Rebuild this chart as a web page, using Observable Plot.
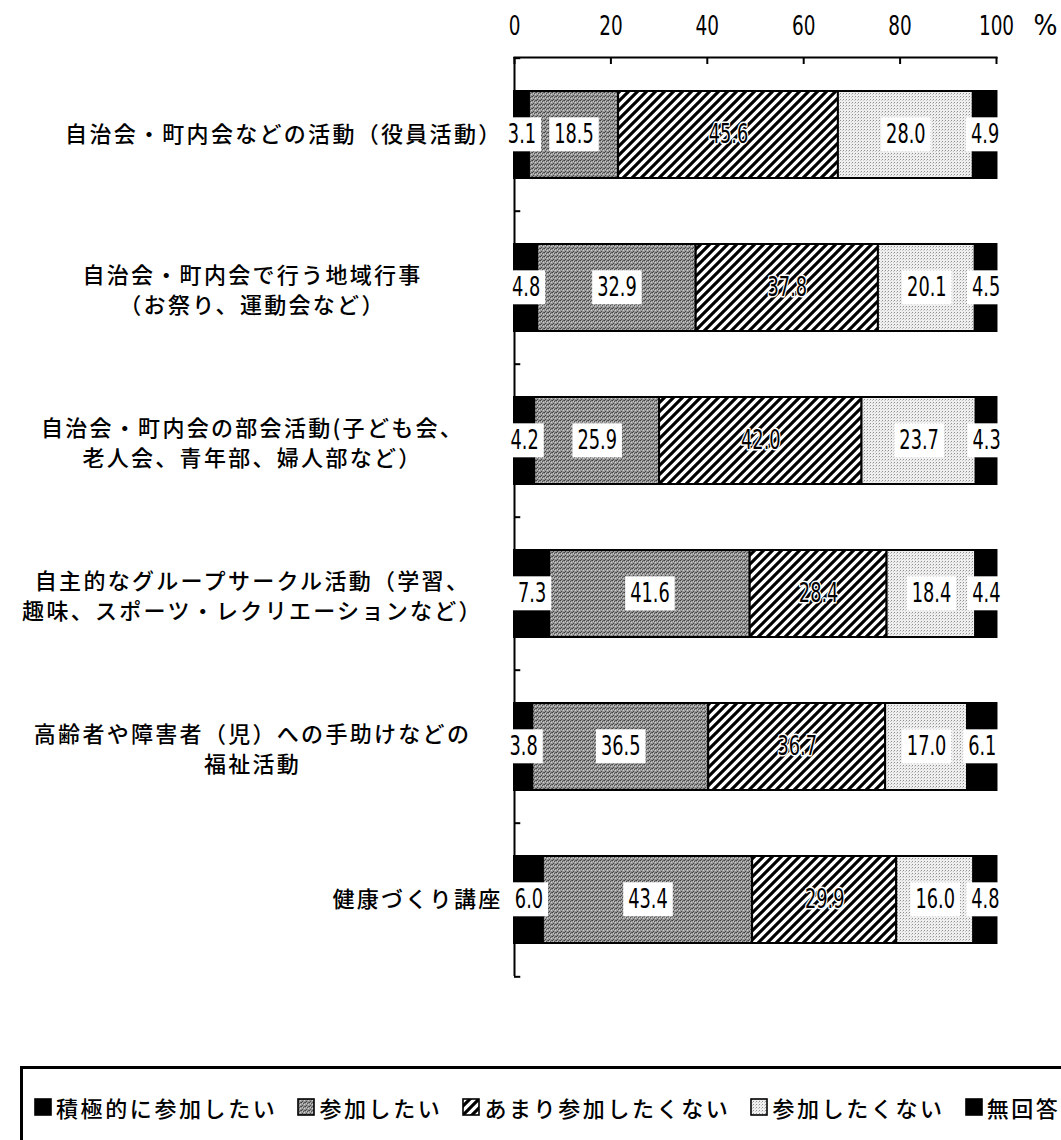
<!DOCTYPE html>
<html><head><meta charset="utf-8">
<script src="https://cdn.jsdelivr.net/npm/d3@7"></script>
<script src="https://cdn.jsdelivr.net/npm/@observablehq/plot@0.6"></script>
<style>
html,body{margin:0;padding:0;background:#fff;}
body{width:1061px;height:1140px;overflow:hidden;position:relative;}
#chart{position:absolute;left:0;top:0;}
#legend{position:absolute;left:20px;top:1066px;width:1100px;height:120px;border:3px solid #000;box-sizing:border-box;
  font-family:"Noto Sans CJK JP","Noto Sans",sans-serif;font-size:22px;font-weight:500;letter-spacing:2.6px;line-height:24px;color:#000;
  padding:26px 0 0 11px;white-space:nowrap;display:flex;align-items:flex-start;}
#legend .item{display:inline-flex;align-items:center;margin-right:20px;}
#legend .item svg{margin-right:4px;flex:none;}
</style></head><body>
<div id="chart"></div>
<div id="legend"></div>
<script>
// ---- data ----
const categories = [
  "自治会・町内会などの活動（役員活動）",
  "自治会・町内会で行う地域行事\n（お祭り、運動会など）",
  "自治会・町内会の部会活動(子ども会、\n老人会、青年部、婦人部など）",
  "自主的なグループサークル活動（学習、\n趣味、スポーツ・レクリエーションなど）",
  "高齢者や障害者（児）への手助けなどの\n福祉活動",
  "健康づくり講座"
];
const seriesNames = ["積極的に参加したい", "参加したい", "あまり参加したくない", "参加したくない", "無回答"];
const sActive   = [3.1, 4.8, 4.2, 7.3, 3.8, 6.0];
const sJoin     = [18.5, 32.9, 25.9, 41.6, 36.5, 43.4];
const sNotMuch  = [45.6, 37.8, 42.0, 28.4, 36.7, 29.9];
const sNo       = [28.0, 20.1, 23.7, 18.4, 17.0, 16.0];
const sNoAnswer = [4.9, 4.5, 4.3, 4.4, 6.1, 4.8];
const xTicks = [0, 20, 40, 60, 80, 100];
const unitLabel = "%";

// ---- styles / layout ----
const seriesValues = [sActive, sJoin, sNotMuch, sNo, sNoAnswer];
const fills = ["#000", "url(#pDots)", "url(#pHatch)", "url(#pLight)", "#000"];
const width = 1061, height = 1000;
const mTop = 57, mBottom = height - 976, mLeft = 514, mRight = width - 996;
const padIn = 0.434, padOut = 0.208;
const step = (height - mTop - mBottom) / (categories.length - padIn + 2 * padOut);
const numFont = "'DejaVu Sans Condensed','DejaVu Sans',sans-serif";
const jpFont = "'Noto Sans CJK JP','Noto Sans',sans-serif";
const numSqueeze = 0.76;

const rows = categories.flatMap((c, i) => seriesNames.map((k, j) => ({cat: c, key: k, value: seriesValues[j][i]})));
const hatchKey = seriesNames[2];
const fmt = v => v.toFixed(1);

const defsMark = () => {
  const d = d3.create("svg:defs");
  d.html(`
    <pattern id="pDots" patternUnits="userSpaceOnUse" width="4" height="4">
      <rect width="4" height="4" fill="#969696"/>
      <rect x="0" y="0" width="1" height="1" fill="#404040"/>
      <rect x="2" y="1" width="1" height="1" fill="#505050"/>
      <rect x="1" y="3" width="1" height="1" fill="#484848"/>
      <rect x="3" y="2" width="1" height="1" fill="#d0d0d0"/>
      <rect x="1" y="1" width="1" height="1" fill="#c8c8c8"/>
      <rect x="3" y="0" width="1" height="1" fill="#606060"/>
    </pattern>
    <pattern id="pHatch" patternUnits="userSpaceOnUse" width="9" height="9">
      <rect width="9" height="9" fill="#fff"/>
      <path d="M-2,2 L2,-2 M0,9 L9,0 M7,11 L11,7" stroke="#000" stroke-width="3.1"/>
    </pattern>
    <pattern id="pLight" patternUnits="userSpaceOnUse" width="3" height="3">
      <rect width="3" height="3" fill="#efefef"/>
      <rect x="0" y="0" width="1" height="1" fill="#909090"/>
      <rect x="2" y="1" width="1" height="1" fill="#c8c8c8"/>
    </pattern>`);
  return d.node();
};

const chart = Plot.plot({
  width, height,
  marginTop: mTop, marginBottom: mBottom, marginLeft: mLeft, marginRight: mRight,
  style: {fontFamily: numFont, fontSize: "26px", color: "#000", background: "#fff", overflow: "visible"},
  x: {domain: [0, 100], axis: null},
  y: {domain: categories, axis: null, paddingInner: padIn, paddingOuter: padOut},
  color: {type: "ordinal", domain: seriesNames, range: fills},
  marks: [
    defsMark,
    Plot.barX(rows, Plot.stackX({x: "value", y: "cat", fill: "key", stroke: "#000", strokeWidth: 2})),
    Plot.ruleX([0], {stroke: "#000", strokeWidth: 2}),
    Plot.frame({anchor: "top", stroke: "#000", strokeWidth: 2}),
    Plot.ruleX(xTicks, {x: d => d, insetBottom: (976 - mTop) - 7, stroke: "#000", strokeWidth: 2}),
    Plot.axisX({anchor: "top", ticks: xTicks, tickSize: 0, tickPadding: 23, label: null, fontSize: 27, fontFamily: numFont}),
    Plot.text([unitLabel], {text: d => d, frameAnchor: "top-right", dx: 49, dy: -23, lineAnchor: "bottom", textAnchor: "middle", fontSize: 28, fontFamily: numFont}),
    Plot.ruleY(categories, {y: d => d, x1: 0, x2: 1.3, dy: -step / 2, stroke: "#000", strokeWidth: 2}),
    Plot.ruleY(categories.slice(-1), {y: d => d, x1: 0, x2: 1.3, dy: step / 2, stroke: "#000", strokeWidth: 2}),
    Plot.text(rows, Plot.stackX({x: "value", y: "cat", z: "key", text: d => d.key === hatchKey ? null : fmt(d.value), fontSize: 26, fontFamily: numFont, fill: "#000"})),
    Plot.text(rows, Plot.stackX({x: "value", y: "cat", z: "key", text: d => d.key === hatchKey ? fmt(d.value) : null, fontSize: 26, fontFamily: numFont, fill: "#000", stroke: "#fff", strokeWidth: 3, paintOrder: "stroke"})),
    Plot.text(categories.filter(c => !c.includes("\n")), {text: d => d, y: d => d, frameAnchor: "left", textAnchor: "end", dx: -12, fontSize: 22, fontWeight: 500, fontFamily: jpFont}),
    Plot.text(categories.filter(c => c.includes("\n")), {text: d => d, y: d => d, frameAnchor: "left", textAnchor: "middle", dx: -262, lineHeight: 1.36, fontSize: 22, fontWeight: 500, fontFamily: jpFont})
  ]
});
document.getElementById("chart").appendChild(chart);

// letter spacing for Japanese labels
chart.querySelectorAll("g[font-family*='CJK']").forEach(g => g.style.letterSpacing = "2.3px");

const NS = "http://www.w3.org/2000/svg";
// narrow, tall digits like the original: wrap numeric texts in a group squeezed around their centre
chart.querySelectorAll("text").forEach(t => {
  if (!/^[\d.]+$/.test(t.textContent)) return;
  const parent = t.parentNode;
  const r = t.getBoundingClientRect();
  const m = parent.getScreenCTM().inverse();
  const p = new DOMPoint(r.x + r.width / 2, r.y + r.height / 2).matrixTransform(m);
  const w = document.createElementNS(NS, "g");
  w.setAttribute("transform", `translate(${p.x},${p.y}) scale(${numSqueeze},1) translate(${-p.x},${-p.y})`);
  parent.insertBefore(w, t);
  w.appendChild(t);
});

// white boxes behind value labels (except the hatched series, which uses a halo)
chart.querySelectorAll("text").forEach(t => {
  if (!/^\d+\.\d$/.test(t.textContent)) return;
  const w = t.parentNode;
  const markG = w.parentNode;
  if (markG.getAttribute("stroke")) return;
  const b = t.getBBox();
  const cy = b.y + b.height / 2;
  const padX = 5 / numSqueeze;
  const r = document.createElementNS(NS, "rect");
  r.setAttribute("x", b.x - padX);
  r.setAttribute("width", b.width + 2 * padX);
  r.setAttribute("y", cy - 17);
  r.setAttribute("height", 34);
  r.setAttribute("fill", "#fff");
  r.setAttribute("stroke", "none");
  if (t.getAttribute("transform")) r.setAttribute("transform", t.getAttribute("transform"));
  w.insertBefore(r, t);
});

// legend
const legend = d3.select("#legend");
seriesNames.forEach((name, i) => {
  const item = legend.append("span").attr("class", "item");
  const sw = item.append("svg").attr("width", 18).attr("height", 18);
  sw.append("rect").attr("x", 1).attr("y", 1).attr("width", 16).attr("height", 16)
    .attr("fill", fills[i]).attr("stroke", "#000").attr("stroke-width", 1.6);
  item.append("span").text(name);
});
</script>
</body></html>
